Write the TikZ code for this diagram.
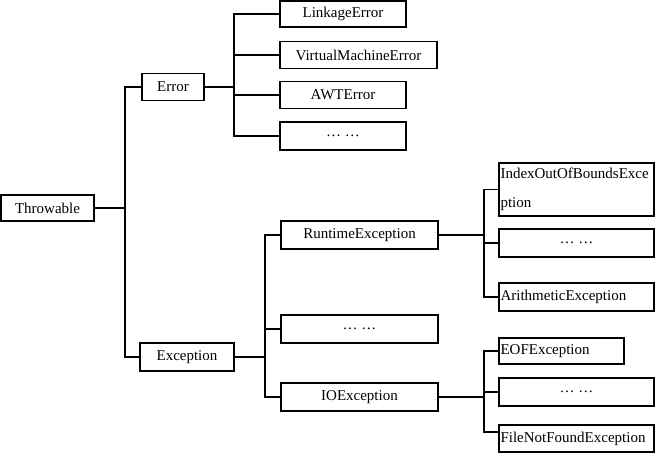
\documentclass[tikz,border=0pt]{standalone}
\usepackage{fontspec}
\setmainfont{Liberation Serif}
\begin{document}
\begin{tikzpicture}[x=1pt,y=-1pt,
  box/.style={draw, line width=1.3pt, inner sep=0pt, font=\fontsize{15}{18}\selectfont},
  lbox/.style={box, align=left, inner xsep=1.5pt},
  conn/.style={line width=1.3pt}]
\useasboundingbox (0,0) rectangle (656,453);
% brackets (x positions)
\coordinate (b1) at (125,0);
\coordinate (b2) at (234,0);
\coordinate (b3) at (265,0);
\coordinate (b4) at (484,0);
% level 0/1
\node[box, minimum width=93, minimum height=26] (throwable) at (47.5,208) {Throwable};
\node[box, minimum width=62, minimum height=27] (error) at (173,87) {Error};
\node[box, minimum width=94, minimum height=28] (exception) at (187,357) {Exception};
% Error children
\node[box, minimum width=126, minimum height=26] (le) at (343,14) {LinkageError};
\node[box, minimum width=157, minimum height=27] (vme) at (358.5,55) {VirtualMachineError};
\node[box, minimum width=126, minimum height=27] (awt) at (343,95) {AWTError};
\node[box, minimum width=126, minimum height=28] (edots) at (343,136) {… …};
% Exception children
\node[box, minimum width=157, minimum height=28] (rte) at (359.5,235) {RuntimeException};
\node[box, minimum width=157, minimum height=28] (xdots) at (359.5,329) {… …};
\node[box, minimum width=157, minimum height=28] (ioe) at (359.5,397) {IOException};
% RuntimeException children
\node[lbox, text width=152, minimum height=53, font=\fontsize{15}{29}\selectfont] (ioob) at (576.5,189.5) {IndexOutOfBoundsExce\\ption};
\node[box, minimum width=155, minimum height=28] (rdots) at (576.5,243) {… …};
\node[lbox, text width=152, minimum height=28] (arith) at (576.5,297) {ArithmeticException};
% IOException children
\node[lbox, text width=122, minimum height=26] (eof) at (561.5,351) {EOFException};
\node[box, minimum width=155, minimum height=28] (idots) at (576.5,392) {… …};
\node[lbox, text width=152, minimum height=27] (fnf) at (576.5,438.5) {FileNotFoundException};
% connectors
\draw[conn] (throwable.east) -- (throwable.east -| b1);
\draw[conn] (error.west) -- (error.west -| b1) -- (exception.west -| b1) -- (exception.west);
\draw[conn] (error.east) -- (error.east -| b2);
\draw[conn] (le.west) -- (le.west -| b2) -- (edots.west -| b2) -- (edots.west);
\draw[conn] (vme.west) -- (vme.west -| b2);
\draw[conn] (awt.west) -- (awt.west -| b2);
\draw[conn] (exception.east) -- (exception.east -| b3);
\draw[conn] (rte.west) -- (rte.west -| b3) -- (ioe.west -| b3) -- (ioe.west);
\draw[conn] (xdots.west) -- (xdots.west -| b3);
\draw[conn] (rte.east) -- (rte.east -| b4);
\draw[conn] (ioob.west) -- (ioob.west -| b4) -- (arith.west -| b4) -- (arith.west);
\draw[conn] (rdots.west) -- (rdots.west -| b4);
\draw[conn] (ioe.east) -- (ioe.east -| b4);
\draw[conn] (eof.west) -- (eof.west -| b4) -- ([yshift=6.5]fnf.west -| b4) -- ([yshift=6.5]fnf.west);
\draw[conn] (idots.west) -- (idots.west -| b4);
\end{tikzpicture}
\end{document}
